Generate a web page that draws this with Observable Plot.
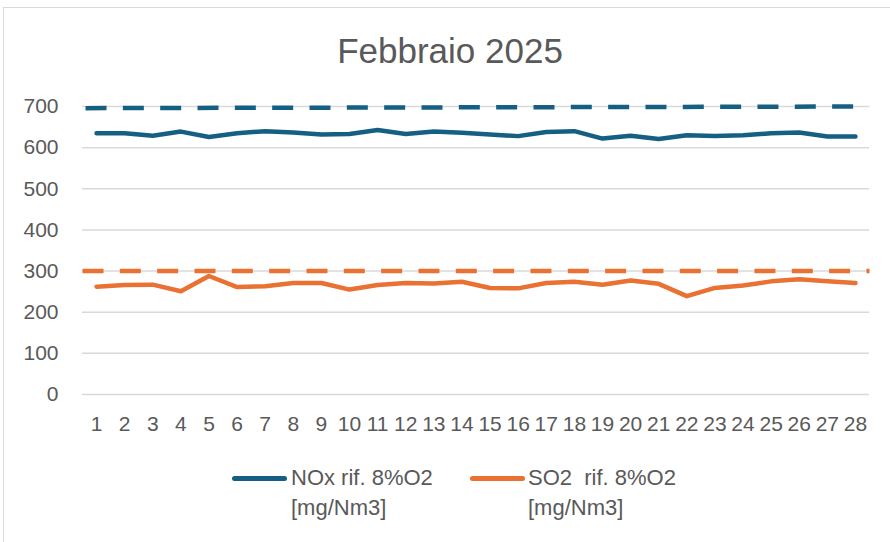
<!DOCTYPE html>
<html>
<head>
<meta charset="utf-8">
<script src="https://cdn.jsdelivr.net/npm/d3@7"></script>
<script src="https://cdn.jsdelivr.net/npm/@observablehq/plot@0.6"></script>
<style>
  html, body { margin: 0; padding: 0; background: #fff; overflow: hidden; width: 890px; height: 542px; }
  body { position: relative; font-family: "Liberation Sans", Arial, sans-serif; color: #595959; }
  #frame { position: absolute; left: 3px; top: 7px; width: 1000px; height: 1000px; border-left: 1.5px solid #d9d9d9; border-top: 1.5px solid #d9d9d9; }
  #title { position: absolute; left: 5px; width: 890px; top: 33px; text-align: center; font-size: 35px; line-height: 35px; }
  #chart { position: absolute; left: 0; top: 90px; }
  .leg-line { position: absolute; height: 5px; border-radius: 3px; width: 55px; }
  .leg-text { position: absolute; font-size: 22px; line-height: 30px; white-space: pre; }
</style>
</head>
<body>
<div id="frame"></div>
<div id="title">Febbraio 2025</div>
<div id="chart"></div>
<div class="leg-line" style="left:232px;top:475.5px;background:#156082"></div>
<div class="leg-text" style="left:291px;top:463px">NOx rif. 8%O2
[mg/Nm3]</div>
<div class="leg-line" style="left:470px;top:475.5px;background:#E97132"></div>
<div class="leg-text" style="left:528px;top:463px">SO2  rif. 8%O2
[mg/Nm3]</div>
<script>
const days = [1,2,3,4,5,6,7,8,9,10,11,12,13,14,15,16,17,18,19,20,21,22,23,24,25,26,27,28];
const nox = [635,635,629,639,626,635,640,637,632,633,643,633,639,636,632,628,638,640,622,629,621,630,628,630,635,637,627,627];
const so2 = [262,266,267,251,288,261,263,271,271,255,266,271,270,274,259,258,271,274,267,277,269,239,259,265,275,280,275,271];
const limitX = [0.5, 28.5];
const noxLimit = [696, 700];
const so2Limit = [300, 300];
const yTicks = [0,100,200,300,400,500,600,700];

const noxData = days.map((d, i) => ({day: d, v: nox[i]}));
const so2Data = days.map((d, i) => ({day: d, v: so2[i]}));
const noxLim = limitX.map((x, i) => ({day: x, v: noxLimit[i]}));
const so2Lim = limitX.map((x, i) => ({day: x, v: so2Limit[i]}));

const chart = Plot.plot({
  width: 890,
  height: 354,
  marginTop: 16,
  marginBottom: 50,
  marginLeft: 82,
  marginRight: 21,
  style: {fontFamily: "'Liberation Sans', Arial, sans-serif", fontSize: "21px", color: "#595959", background: "transparent", overflow: "visible"},
  x: {type: "linear", domain: [0.5, 28.5], ticks: days, tickFormat: d => String(d), tickSize: 0, tickPadding: 22, label: null},
  y: {domain: [0, 700], ticks: yTicks, tickSize: 0, tickPadding: 24, label: null},
  marks: [
    Plot.gridY(yTicks, {stroke: "#d9d9d9", strokeOpacity: 1, strokeWidth: 1.5}),
    Plot.line(noxLim, {x: "day", y: "v", stroke: "#156082", strokeWidth: 4.5, strokeDasharray: "21,16.33", strokeDashoffset: 34.3, strokeLinecap: "butt"}),
    Plot.line(so2Lim, {x: "day", y: "v", stroke: "#E97132", strokeWidth: 4.5, strokeDasharray: "21,16.33", strokeDashoffset: 0, strokeLinecap: "butt"}),
    Plot.line(noxData, {x: "day", y: "v", stroke: "#156082", strokeWidth: 4.5, strokeLinecap: "round", strokeLinejoin: "round"}),
    Plot.line(so2Data, {x: "day", y: "v", stroke: "#E97132", strokeWidth: 4.5, strokeLinecap: "round", strokeLinejoin: "round"})
  ]
});
document.getElementById("chart").appendChild(chart);
</script>
</body>
</html>
